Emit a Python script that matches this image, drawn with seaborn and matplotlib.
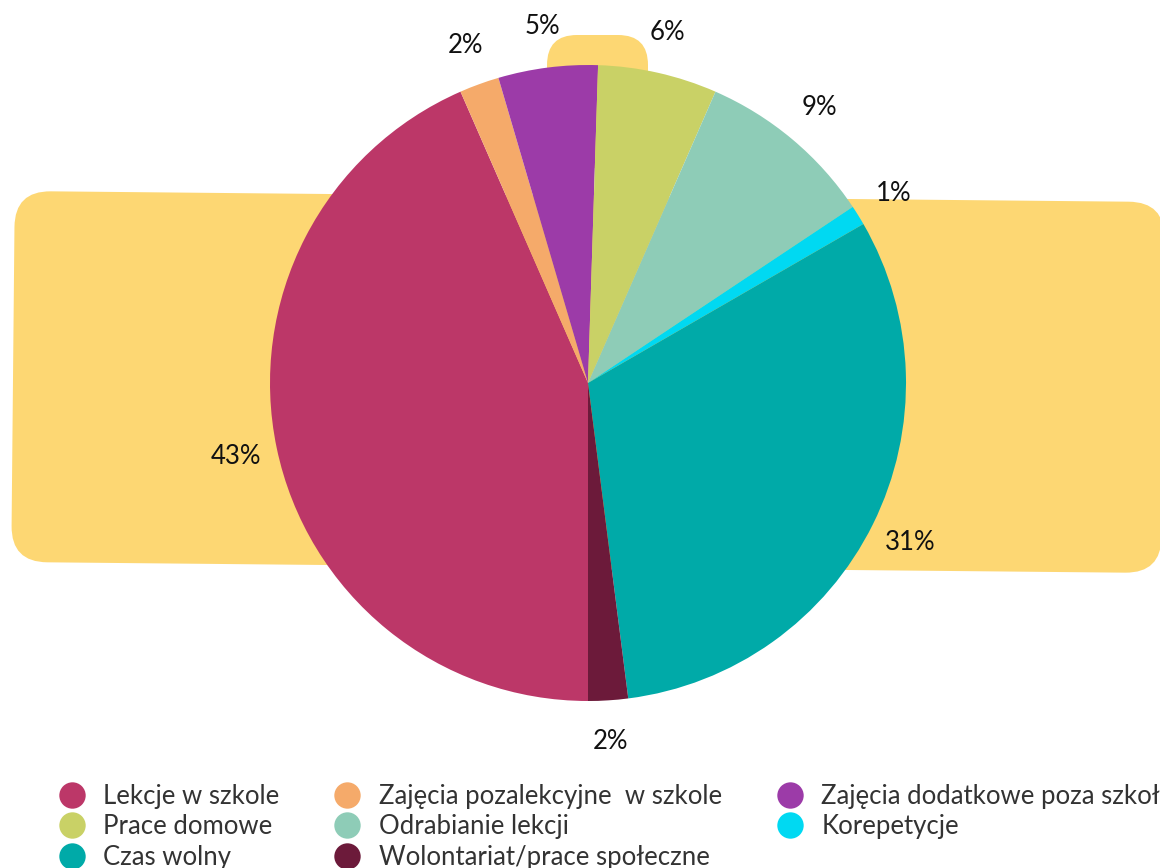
import matplotlib

matplotlib.use("Agg")
import matplotlib.pyplot as plt
import matplotlib.transforms as mtransforms
from matplotlib.lines import Line2D
from matplotlib.patches import FancyBboxPatch
import seaborn as sns

# ----------------------------------------------------------------------
# Data
# ----------------------------------------------------------------------
categories = [
    "Lekcje w szkole",
    "Zajęcia pozalekcyjne  w szkole",
    "Zajęcia dodatkowe poza szkołą",
    "Prace domowe",
    "Odrabianie lekcji",
    "Korepetycje",
    "Czas wolny",
    "Wolontariat/prace społeczne",
]
shares = [43, 2, 5, 6, 9, 1, 31, 2]
colors = ["#BC3768", "#F5AA6A", "#9C3BA8", "#C9D166",
          "#8ECCB7", "#00D9F2", "#00AAA8", "#6C1A3A"]
YELLOW = "#FDD773"

sns.set_theme(style="white")
plt.rcParams["font.family"] = ["Lato", "DejaVu Sans"]

W, H = 1160, 868
fig = plt.figure(figsize=(W / 100, H / 100), dpi=100)
ax = fig.add_axes([0, 0, 1, 1])

# decorative yellow shapes behind the pie
rot = mtransforms.Affine2D().rotate_deg_around(588, 486, -0.55) + ax.transData
big = FancyBboxPatch((13, 300.5), 1150, 371,
                     boxstyle="round,pad=0,rounding_size=36",
                     fc=YELLOW, ec="none", transform=rot, zorder=0)
ax.add_patch(big)
small = FancyBboxPatch((547, 700), 101, 133,
                       boxstyle="round,pad=0,rounding_size=30",
                       fc=YELLOW, ec="none", zorder=0)
ax.add_patch(small)

# pie
wedges, _, pct = ax.pie(
    shares,
    colors=colors,
    center=(588, 485),
    radius=318,
    startangle=270,
    counterclock=False,
    autopct="%.0f%%",
    pctdistance=1.13,
    wedgeprops=dict(linewidth=0),
    textprops=dict(fontsize=18.5, color="#111111"),
    frame=True,
)
for w in wedges:
    w.set_zorder(2)
ax.set_xlim(0, W)
ax.set_ylim(0, H)
ax.set_aspect("equal")
ax.axis("off")

# legend, row-major order (matplotlib fills columns first)
# the reference itself cuts the last column at the right edge
order = [0, 3, 6, 1, 4, 7, 2, 5]
handles = [Line2D([], [], marker="o", linestyle="none", markersize=19,
                  markerfacecolor=colors[i], markeredgecolor="none")
           for i in order]
labels = [categories[i] for i in order]
leg = fig.legend(
    handles, labels,
    loc="upper left",
    bbox_to_anchor=(46 / W, 1 - 774 / H),
    ncol=3,
    frameon=False,
    prop=dict(family=["Lato", "DejaVu Sans"], size=18.5),
    handletextpad=0.62,
    columnspacing=2.05,
    labelspacing=0.2,
    handlelength=1.2,
    borderaxespad=0,
)
for t in leg.get_texts():
    t.set_color("#333333")

fig.savefig("out.png", dpi=100)
